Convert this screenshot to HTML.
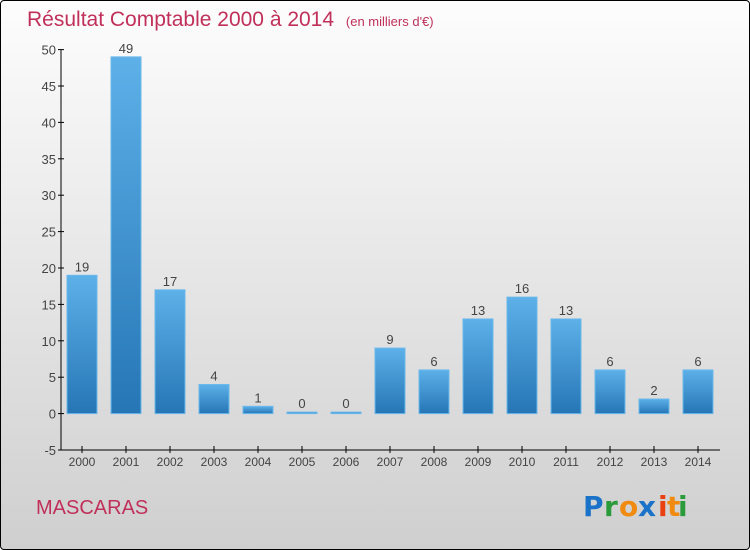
<!DOCTYPE html>
<html><head><meta charset="utf-8"><style>
html,body{margin:0;padding:0}
body{width:750px;height:550px;overflow:hidden;font-family:"Liberation Sans",sans-serif}
#wrap{position:absolute;left:0;top:0;width:748px;height:548px;border:1px solid #000;border-radius:4px;background:linear-gradient(#fdfdfd,#cfcfcf)}
</style></head><body>
<div id="wrap">
<svg width="750" height="550" style="position:absolute;left:-1px;top:-1px">
<defs><linearGradient id="bg" x1="0" y1="0" x2="0" y2="1"><stop offset="0" stop-color="#5db0e8"/><stop offset="1" stop-color="#2676b6"/></linearGradient></defs>
<text x="27" y="26" font-size="21" fill="#c0305a">Résultat Comptable 2000 à 2014 <tspan font-size="13" dx="6">(en milliers d'€)</tspan></text>
<g id="axes"></g>
<g id="bars"></g>
<text x="36" y="514" font-size="20" fill="#c0305a">MASCARAS</text>
<g font-size="28" font-family="DejaVu Sans, sans-serif" font-weight="bold">
<text x="583" y="516" fill="#1a73c8">P</text><text x="604" y="516" fill="#2a9a3a">r</text><text x="619" y="516" fill="#f08a10">o</text><text x="638" y="516" fill="#1a73c8">x</text><text x="658" y="516" fill="#e84010">i</text><text x="667" y="516" fill="#f08a10">t</text><text x="678" y="516" fill="#2a9a3a">i</text>
</g>
</svg></div>
<script>
const categories=["2000","2001","2002","2003","2004","2005","2006","2007","2008","2009","2010","2011","2012","2013","2014"];
const values=[19,49,17,4,1,0,0,9,6,13,16,13,6,2,6];
const yTicks=[-5,0,5,10,15,20,25,30,35,40,45,50];
const NS="http://www.w3.org/2000/svg";
const y=v=>413.6-v*7.28;
const x=i=>82+i*44;
function mk(t,a,p){const e=document.createElementNS(NS,t);for(const k in a)e.setAttribute(k,a[k]);p.appendChild(e);return e;}
const ax=document.getElementById('axes'),bars=document.getElementById('bars');
let l=mk('line',{x1:61,y1:y(50),x2:61,y2:y(-5),stroke:'#000'},ax);


l=mk('line',{x1:61,y1:y(-5),x2:720,y2:y(-5),stroke:'#000'},ax);


yTicks.forEach(t=>{mk('line',{x1:58,x2:64,y1:y(t),y2:y(t),stroke:'#000'},ax);
const tx=mk('text',{x:56,y:y(t)+5,'text-anchor':'end','font-size':13,fill:'#444'},ax);tx.textContent=t;

});
categories.forEach((c,i)=>{mk('line',{x1:x(i),x2:x(i),y1:y(-5)-4,y2:y(-5)+3,stroke:'#000'},ax);
const tx=mk('text',{x:x(i),y:466,'text-anchor':'middle','font-size':12,fill:'#444'},ax);tx.textContent=c;


const v=values[i];const top=y(Math.max(v,0)),h=Math.max(Math.abs(y(v)-y(0)),1.5);
const r=mk('rect',{x:x(i)-15,y:Math.min(top,y(0)-1.5),width:30,height:h,fill:'url(#bg)',stroke:'#6bb8ec','stroke-width':1},bars);


const vl=mk('text',{x:x(i),y:Math.min(top,y(0)-1.5)-4,'text-anchor':'middle','font-size':13,fill:'#444'},bars);vl.textContent=v;

});
</script>
</body></html>
